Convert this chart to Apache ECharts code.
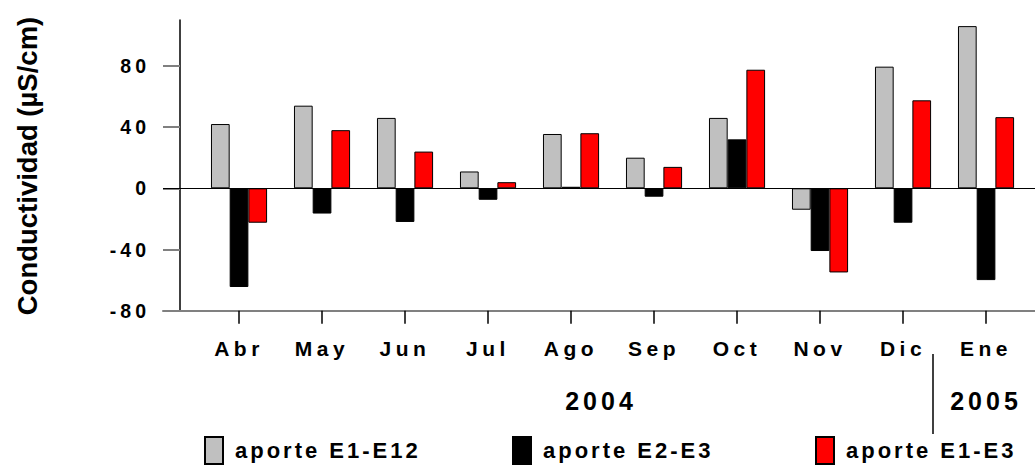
<!DOCTYPE html>
<html>
<head>
<meta charset="utf-8">
<script src="https://cdn.jsdelivr.net/npm/echarts@6/dist/echarts.min.js"></script>
<style>
  html, body { margin: 0; padding: 0; background: #fff; }
  #chart { width: 1035px; height: 473px; }
</style>
</head>
<body>
<div id="chart"></div>
<script>
// Monthly conductivity contributions, Apr 2004 - Jan 2005
const months = ['Abr', 'May', 'Jun', 'Jul', 'Ago', 'Sep', 'Oct', 'Nov', 'Dic', 'Ene'];
const years = ['2004', '2005'];
const seriesNames = ['aporte E1-E12', 'aporte E2-E3', 'aporte E1-E3'];
const aporteE1E12 = [42, 54, 46, 11, 35.5, 20, 46, -14, 79.5, 106];
const aporteE2E3 = [-64.5, -16.5, -22, -7.5, 1, -5.5, 32, -41, -22.5, -60];
const aporteE1E3 = [-22.5, 38, 24, 4, 36, 14, 77.5, -55, 57.5, 46.5];
const yTicks = [-80, -40, 0, 40, 80];
const yTitle = 'Conductividad (\u00B5S/cm)';

const FONT = "'Liberation Sans', Arial, sans-serif";
const colors = ['#c0c0c0', '#000000', '#ff0000'];
const seriesValues = [aporteE1E12, aporteE2E3, aporteE1E3];
const monthIndex = months.map((m, i) => i);

const chart = echarts.init(document.getElementById('chart'), null, { renderer: 'svg' });

const series = seriesNames.map((name, k) => ({
  name: name,
  type: 'bar',
  barWidth: 18.7,
  barGap: '0%',
  data: seriesValues[k].map((v, i) => [monthIndex[i], v]),
  itemStyle: { color: colors[k], borderColor: '#000', borderWidth: 1 },
  markLine: k === 0 ? {
    silent: true,
    symbol: ['none', 'none'],
    label: { show: false },
    lineStyle: { color: '#000', width: 1, type: 'solid' },
    data: [{ yAxis: 0 }]
  } : undefined
}));

const legendLeft = [204, 512, 815];
const legends = seriesNames.map((name, k) => ({
  data: [name],
  left: legendLeft[k],
  top: 436,
  padding: 0,
  icon: 'rect',
  itemWidth: 18,
  itemHeight: 27,
  selectedMode: false,
  textStyle: { fontFamily: FONT, fontSize: 22, fontWeight: 'bold', color: '#000', padding: [0, 0, 0, 7] }
}));

chart.setOption({
  animation: false,
  grid: { left: 163, right: 0, top: 20, bottom: 162.3, containLabel: false },
  legend: legends,
  xAxis: {
    type: 'value',
    min: -0.916,
    max: 9.59,
    position: 'bottom',
    axisLine: { onZero: false, lineStyle: { color: '#808080', width: 2 } },
    axisTick: { show: true, length: 13, customValues: monthIndex, lineStyle: { color: '#000', width: 1.5 } },
    axisLabel: {
      customValues: monthIndex,
      formatter: v => months[Math.round(v)] || '',
      margin: 27,
      fontFamily: FONT, fontSize: 21, fontWeight: 'bold', color: '#000'
    },
    splitLine: { show: false }
  },
  yAxis: {
    type: 'value',
    min: -80,
    max: 110,
    interval: 40,
    position: 'left',
    offset: -17,
    axisLine: { show: true, onZero: false, lineStyle: { color: '#000', width: 1.5 } },
    axisTick: { show: true, length: 17, customValues: yTicks, lineStyle: { color: '#808080', width: 2 } },
    axisLabel: {
      customValues: yTicks,
      margin: 30,
      fontFamily: FONT, fontSize: 19.5, fontWeight: 'bold', color: '#000'
    },
    splitLine: { show: false }
  },
  graphic: [
    {
      type: 'text', x: 27, y: 166, rotation: Math.PI / 2,
      style: { text: yTitle, textAlign: 'center', textVerticalAlign: 'middle', font: 'bold 27.5px ' + FONT, fill: '#000' }
    },
    {
      type: 'text', x: 601, y: 401,
      style: { text: years[0], textAlign: 'center', textVerticalAlign: 'middle', font: 'bold 25px ' + FONT, fill: '#000' }
    },
    {
      type: 'text', x: 986, y: 401,
      style: { text: years[1], textAlign: 'center', textVerticalAlign: 'middle', font: 'bold 25px ' + FONT, fill: '#000' }
    },
    {
      type: 'line', shape: { x1: 933, y1: 354, x2: 933, y2: 434 },
      style: { stroke: '#000', lineWidth: 1.5 }
    }
  ],
  series: series
});

// Spread out the letters of the axis, year and legend labels
function spacingFor(txt) {
  if (txt === yTitle) return 0;
  if (months.indexOf(txt) >= 0) return 4.5;
  if (years.indexOf(txt) >= 0) return 4;
  if (seriesNames.indexOf(txt) >= 0) return 3;
  return 4;
}
function applySpacing() {
  document.querySelectorAll('#chart svg text').forEach(el => {
    el.style.letterSpacing = spacingFor(el.textContent.trim()) + 'px';
  });
}
chart.on('finished', applySpacing);
applySpacing();
</script>
</body>
</html>
